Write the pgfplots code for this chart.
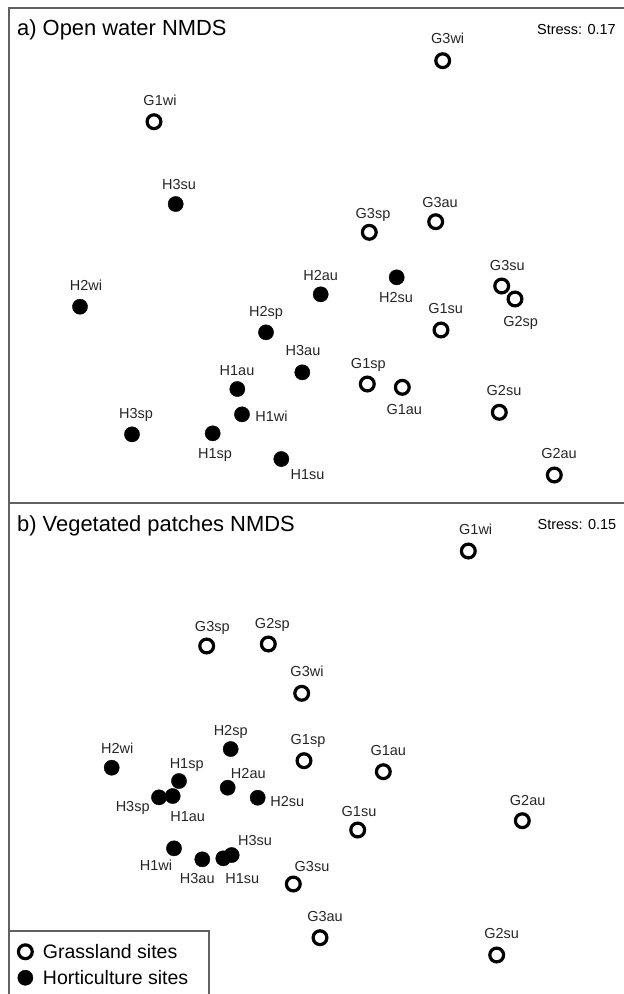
\documentclass[border=0pt]{standalone}
\usepackage{pgfplots}
\pgfplotsset{compat=1.18}
\usepackage{fontspec}
\setmainfont{Liberation Sans}

\pgfplotsset{
  nmds/.style={
    scale only axis, width=621pt, xmin=9, xmax=630, y dir=reverse,
    axis line style={draw=black!62, line width=1.5pt},
    ticks=none, clip=false,
  },
  gs/.style={only marks, mark=o, mark size=6.9pt,
    mark options={line width=3.2pt, draw=black}},
  hs/.style={only marks, mark=*, mark size=7.6pt,
    mark options={fill=black, draw=black, line width=0.4pt}},
}
\tikzset{
  lbl/.style={anchor=base, inner sep=0pt, yshift=-5.2pt,
    font=\fontsize{14.5pt}{16pt}\selectfont, text=black!85},
  ttl/.style={anchor=base west, inner sep=0pt,
    font=\fontsize{21.9pt}{24pt}\selectfont, text=black},
  strs/.style={anchor=base east, inner sep=0pt,
    font=\fontsize{14.5pt}{16pt}\selectfont, text=black},
}
\newcommand{\lbl}[3]{\node[lbl] at (axis cs:#1,#2) {#3};}

\begin{document}
\begin{tikzpicture}
\useasboundingbox (0pt,0pt) rectangle (624pt,-994pt);

% ---------------- a) Open water ----------------
\begin{axis}[nmds, at={(9pt,-8pt)}, anchor=north west,
  height=495pt, ymin=8, ymax=503]
\addplot[gs] table {
x y
154.0 121.7
442.7 60.7
369.3 232.3
435.7 221.7
501.7 286.0
515.0 299.0
441.0 330.0
367.3 384.0
402.3 387.3
499.3 412.3
554.3 475.0
};
\addplot[hs] table {
x y
175.7 204.0
80.0 306.7
266.0 332.3
320.7 294.3
396.7 277.3
302.3 372.3
237.3 389.0
242.0 414.3
132.0 434.3
212.7 433.3
281.3 459.0
};
\node[ttl] at (axis cs:17,35) {a) Open water NMDS};
\node[strs] at (axis cs:616,34.2) {Stress: 0.17};
\lbl{160}{100}{G1wi}
\lbl{447.7}{38}{G3wi}
\lbl{373}{213}{G3sp}
\lbl{440}{202}{G3au}
\lbl{507.3}{265}{G3su}
\lbl{520.7}{321.7}{G2sp}
\lbl{445.7}{308.3}{G1su}
\lbl{368.3}{363.3}{G1sp}
\lbl{404.3}{409}{G1au}
\lbl{504}{390.7}{G2su}
\lbl{559}{453.3}{G2au}
\lbl{179}{184}{H3su}
\lbl{86}{285}{H2wi}
\lbl{266}{311.7}{H2sp}
\lbl{320.7}{275}{H2au}
\lbl{396}{297.7}{H2su}
\lbl{303}{350.7}{H3au}
\lbl{237}{370}{H1au}
\lbl{271.5}{416.7}{H1wi}
\lbl{136}{413.3}{H3sp}
\lbl{215}{453.3}{H1sp}
\lbl{307.5}{474}{H1su}
\end{axis}

% ---------------- b) Vegetated patches ----------------
\begin{axis}[nmds, at={(9pt,-503pt)}, anchor=north west,
  height=497pt, ymin=503, ymax=1000,
  legend cell align=left,
  legend image code/.code={\draw[#1] plot coordinates {(8pt,0pt)};},
  legend style={at={(axis cs:9,930)}, anchor=north west,
    draw=black!62, line width=1.5pt, fill=white,
    inner xsep=8pt, inner ysep=12pt, row sep=8pt, column sep=10pt,
    cells={anchor=west},
    nodes={inner sep=0pt, text height=16pt, text depth=2pt,
      font=\fontsize{19.5pt}{20pt}\selectfont, text=black}},
]
\addplot[gs] table {
x y
468.3 551.0
206.7 646.0
268.3 644.0
301.7 693.3
304.0 760.7
383.3 771.7
357.7 830.0
522.3 820.7
293.3 884.0
320.0 937.7
496.7 955.0
};
\addplot[hs] table {
x y
230.7 749.0
111.7 767.7
179.0 781.0
227.7 787.7
257.7 797.7
159.0 797.3
172.7 796.0
174.0 848.3
202.3 859.3
223.3 858.3
231.7 855.0
};
\legend{\makebox[158pt][l]{Grassland sites}, \makebox[158pt][l]{Horticulture sites}}
\node[ttl] at (axis cs:17,531.5) {b) Vegetated patches NMDS};
\node[strs] at (axis cs:616.5,529.5) {Stress: 0.15};
\lbl{475.7}{529}{G1wi}
\lbl{212.3}{626.7}{G3sp}
\lbl{272.3}{623.3}{G2sp}
\lbl{307}{671}{G3wi}
\lbl{308}{739}{G1sp}
\lbl{388.3}{750}{G1au}
\lbl{359}{811}{G1su}
\lbl{527.7}{800}{G2au}
\lbl{312}{866}{G3su}
\lbl{325}{916}{G3au}
\lbl{501.7}{933.3}{G2su}
\lbl{230.7}{730.7}{H2sp}
\lbl{117.3}{748.3}{H2wi}
\lbl{186.7}{763.3}{H1sp}
\lbl{248.3}{773.3}{H2au}
\lbl{287.3}{801}{H2su}
\lbl{132.7}{806.7}{H3sp}
\lbl{187.7}{816.7}{H1au}
\lbl{156}{865}{H1wi}
\lbl{197.3}{878.3}{H3au}
\lbl{242.3}{878.3}{H1su}
\lbl{255}{840}{H3su}
\end{axis}
\end{tikzpicture}
\end{document}
